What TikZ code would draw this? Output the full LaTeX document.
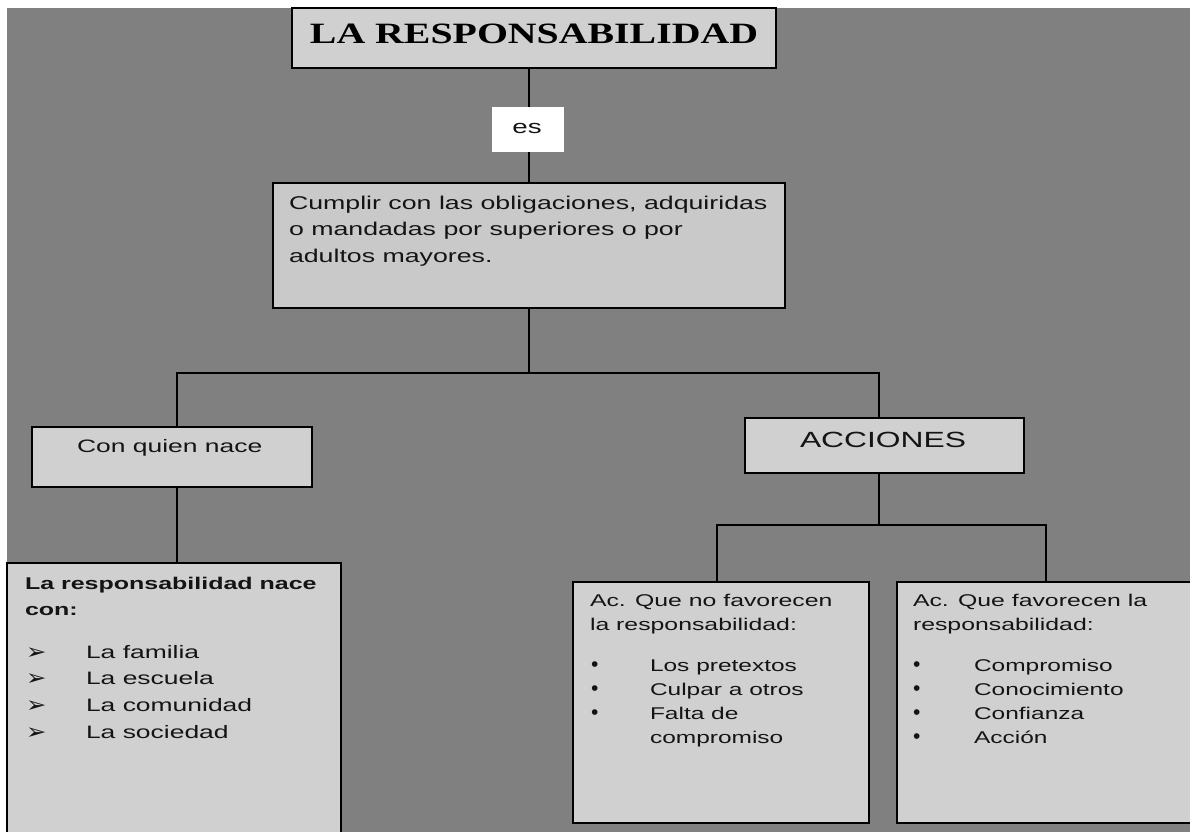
\documentclass[tikz,border=0pt]{standalone}
\usepackage{fontspec}
\setmainfont{Liberation Sans}
\newfontfamily\titlefont{Liberation Serif}
\newfontfamily\symfont{DejaVu Sans}
\usepackage{graphicx}
\newcommand{\hs}[2][1.46]{\scalebox{#1}[1]{#2}}
\definecolor{bg}{HTML}{808080}
\definecolor{boxfill}{HTML}{D0D0D0}
\definecolor{boxfillB}{HTML}{C9C9C9}
\definecolor{ink}{HTML}{141414}
\begin{document}
\begin{tikzpicture}[x=1pt,y=-1pt,
  box/.style={draw=black, line width=2pt, fill=boxfill, anchor=north west, inner sep=0pt, outer sep=0pt},
  link/.style={draw=black, line width=2pt, line join=miter},
  txt/.style={anchor=base west, inner sep=0pt, outer sep=0pt, text=ink},
  ctxt/.style={anchor=base, inner sep=0pt, outer sep=0pt, text=ink},
]
\useasboundingbox (0,0) rectangle (1190,831);
\clip (0,0) rectangle (1190,831);
\fill[white] (0,0) rectangle (1190,831);
\fill[bg] (7,8) rectangle (1195,835);

% boxes
\node[box, minimum width=484pt, minimum height=60pt] (title) at (292,8) {};
\node[anchor=north west, fill=white, inner sep=0pt, minimum width=72pt, minimum height=45pt] (es) at (492,107) {};
\node[box, fill=boxfillB, minimum width=512pt, minimum height=125pt] (cumplir) at (273,183) {};
\node[box, minimum width=280pt, minimum height=60pt] (cq) at (32,427) {};
\node[box, minimum width=334pt, minimum height=300pt] (nace) at (7,563) {};
\node[box, minimum width=279pt, minimum height=55pt] (acc) at (745,418) {};
\node[box, minimum width=296pt, minimum height=241pt] (nof) at (573,582) {};
\node[box, minimum width=310pt, minimum height=241pt] (fav) at (897,582) {};

% connectors
\coordinate (j0) at (529,373);
\coordinate (jL) at (177,373);
\coordinate (jR) at (879,373);
\coordinate (k0) at (879,525);
\coordinate (kL) at (717,525);
\coordinate (kR) at (1046,525);
\draw[link] (title.south -| j0) -- (es.north -| j0);
\draw[link] (es.south -| j0) -- (cumplir.north -| j0);
\draw[link] (cumplir.south -| j0) -- (j0);
\draw[link] (cq.north -| jL) -- (jL) -- (jR) -- (acc.north -| jR);
\draw[link] (cq.south -| jL) -- (nace.north -| jL);
\draw[link] (acc.south -| jR) -- (k0);
\draw[link] (nof.north -| kL) -- (kL) -- (kR) -- (fav.north -| kR);

% texts
\node[ctxt, text=black] (tt) at (534,43) {\titlefont\bfseries\fontsize{29.5}{29.5}\selectfont\hs[1.35]{LA RESPONSABILIDAD}};
\node[ctxt] (est) at (527,133) {\fontsize{19}{19}\selectfont\hs{es}};
\node[txt] (ct) at (289,209) {\fontsize{18.5}{26.5}\selectfont\hs[1.445]{\begin{tabular}[t]{@{}l@{}}Cumplir con las obligaciones, adquiridas\\ o mandadas por superiores o por\\ adultos mayores.\end{tabular}}};
\node[txt] (cqt) at (77,452) {\fontsize{18}{18}\selectfont\hs[1.47]{Con quien nace}};
\node[txt] (acct) at (800,447) {\fontsize{22}{22}\selectfont\hs[1.445]{ACCIONES}};

\node[txt] (naceh) at (25,589) {\fontsize{17}{26}\selectfont\bfseries\hs[1.47]{\begin{tabular}[t]{@{}l@{}}La responsabilidad nace\\ con:\end{tabular}}};
\node[txt] (naceb) at (26,659) {\fontsize{22}{26.7}\selectfont\symfont\hs[1.1]{\begin{tabular}[t]{@{}l@{}}➢\\ ➢\\ ➢\\ ➢\end{tabular}}};
\node[txt] (nacei) at (86,658) {\fontsize{18}{26.7}\selectfont\hs[1.47]{\begin{tabular}[t]{@{}l@{}}La familia\\ La escuela\\ La comunidad\\ La sociedad\end{tabular}}};

\node[txt] (nofh) at (590,606) {\fontsize{17}{24.5}\selectfont\hs[1.46]{\begin{tabular}[t]{@{}l@{}}Ac. Que no favorecen\\ la responsabilidad:\end{tabular}}};
\node[txt] (nofb) at (591,671) {\fontsize{21}{24.2}\selectfont\begin{tabular}[t]{@{}l@{}}•\\ •\\ •\end{tabular}};
\node[txt] (nofi) at (650,671) {\fontsize{17}{24.2}\selectfont\hs[1.44]{\begin{tabular}[t]{@{}l@{}}Los pretextos\\ Culpar a otros\\ Falta de\\ compromiso\end{tabular}}};

\node[txt] (favh) at (913,606) {\fontsize{17}{24.5}\selectfont\hs[1.46]{\begin{tabular}[t]{@{}l@{}}Ac. Que favorecen la\\ responsabilidad:\end{tabular}}};
\node[txt] (favb) at (913,671) {\fontsize{21}{24.2}\selectfont\begin{tabular}[t]{@{}l@{}}•\\ •\\ •\\ •\end{tabular}};
\node[txt] (favi) at (974,671) {\fontsize{17}{24.2}\selectfont\hs[1.44]{\begin{tabular}[t]{@{}l@{}}Compromiso\\ Conocimiento\\ Confianza\\ Acción\end{tabular}}};
\end{tikzpicture}
\end{document}
